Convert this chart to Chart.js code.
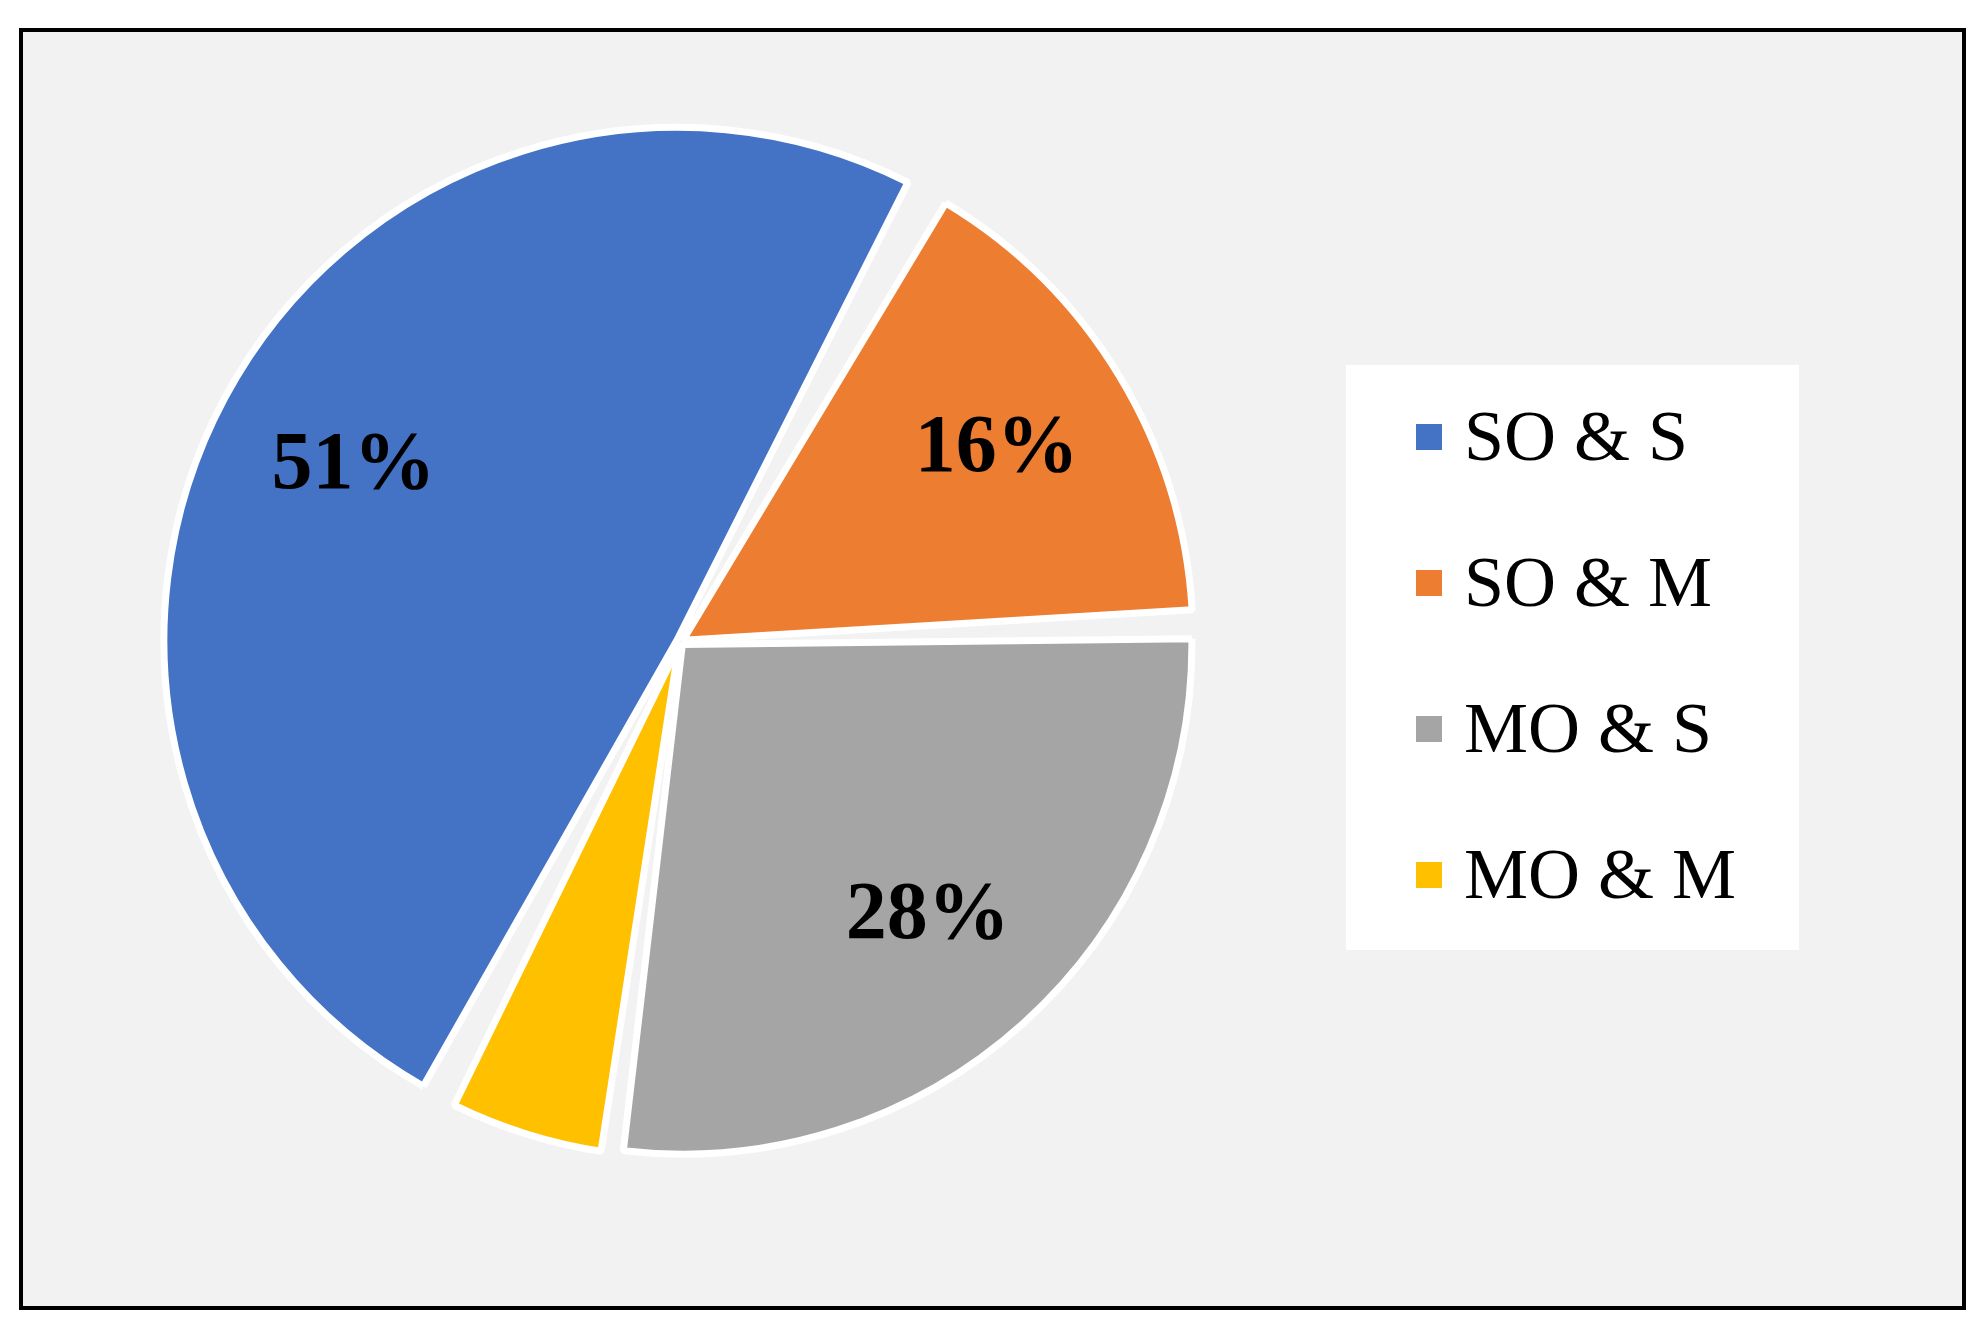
<!DOCTYPE html>
<html><head><meta charset="utf-8">
<script src="https://cdn.jsdelivr.net/npm/chart.js@4/dist/chart.umd.min.js"></script>
<style>
html,body{margin:0;padding:0;background:#fff;}
#frame{position:absolute;left:19px;top:28px;width:1939px;height:1274px;border:4px solid #000;background:#f2f2f2;}
#wrap{position:absolute;left:160px;top:122px;width:1040px;height:1040px;}
#legend{position:absolute;left:1346px;top:365px;width:453px;height:585px;background:#fff;font-family:"Liberation Serif",serif;font-size:72px;color:#000;}
.item{position:absolute;left:70px;display:flex;align-items:center;white-space:nowrap;}
.sw{width:26px;height:26px;margin-right:22px;}
</style></head><body>
<div id="frame"></div>
<div id="wrap"><canvas id="c"></canvas></div>
<div id="legend"></div>
<script>
const categories=["SO & S","SO & M","MO & S","MO & M"];
const values=[51,16,28,5];
const colors=["#4472c4","#ed7d31","#a5a5a5","#ffc000"];
const lg=document.getElementById('legend');
categories.forEach((c,i)=>{const d=document.createElement('div');d.className='item';d.style.top=(30+i*146)+'px';
d.innerHTML='<span class="sw" style="background:'+colors[i]+'"></span>'+c;lg.appendChild(d);});
const labelPlugin={id:'lbl',afterDatasetsDraw(ch){const ctx=ch.ctx;const meta=ch.getDatasetMeta(0);
ctx.save();ctx.font='bold 82px "Liberation Serif"';ctx.fillStyle='#000';ctx.textAlign='center';ctx.textBaseline='middle';
meta.data.forEach((a,i)=>{const mid=(a.startAngle+a.endAngle)/2;const f=values[i]<10?1.17:0.74;const r=a.outerRadius*f;
ctx.fillText(values[i]+'%',a.x+Math.cos(mid)*r,a.y+Math.sin(mid)*r);});ctx.restore();}};
new Chart(document.getElementById('c'),{type:'pie',
data:{labels:categories,datasets:[{data:values,backgroundColor:colors,borderColor:'#fff',borderWidth:7,offset:[14,14,14,14],spacing:18}]},
options:{responsive:true,maintainAspectRatio:false,animation:false,rotation:206.4,
layout:{padding:0},plugins:{legend:{display:false},tooltip:{enabled:false}}},
plugins:[labelPlugin]});
</script></body></html>
